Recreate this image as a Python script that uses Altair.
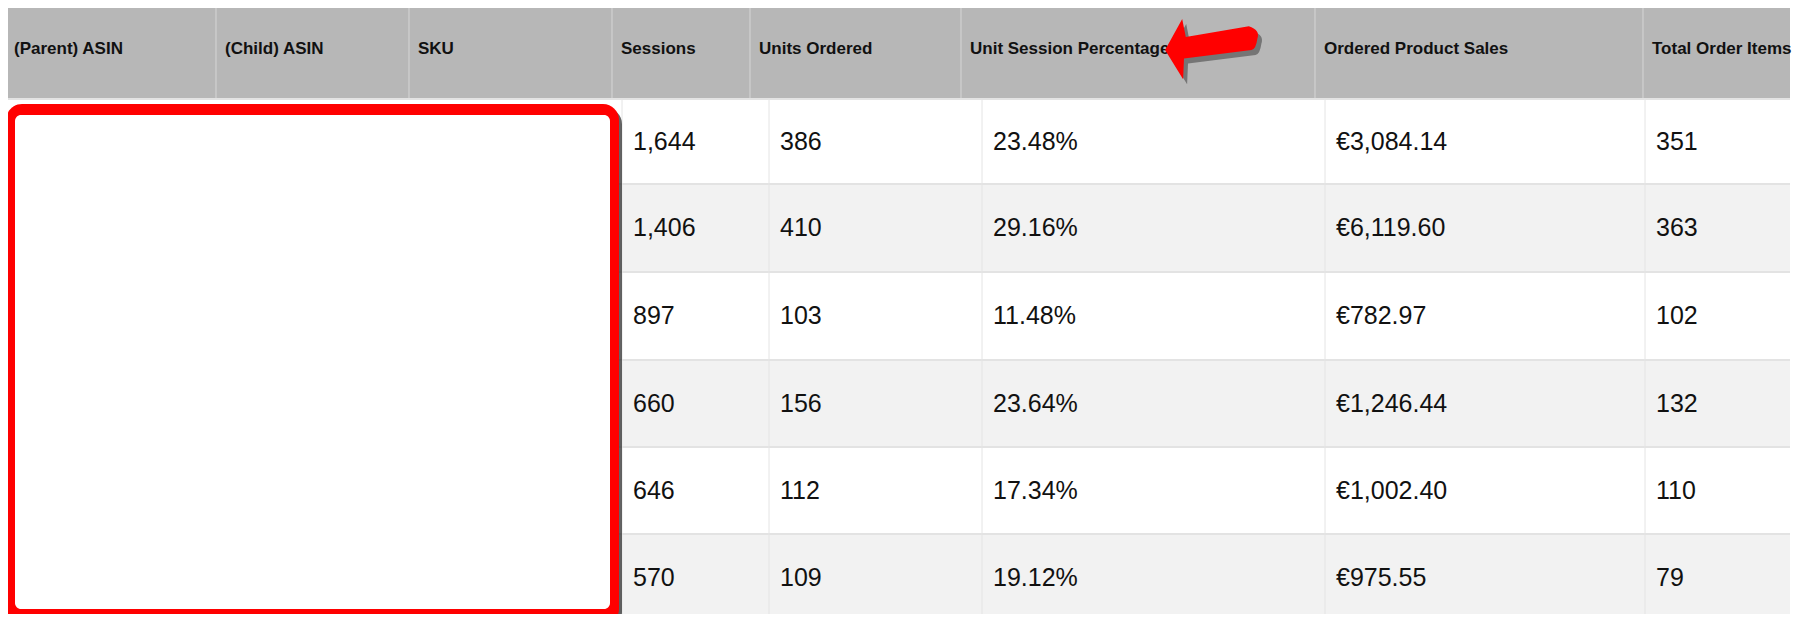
import altair as alt
import pandas as pd

# ---- data ----
columns = ["(Parent) ASIN", "(Child) ASIN", "SKU", "Sessions", "Units Ordered",
           "Unit Session Percentage", "Ordered Product Sales", "Total Order Items"]
sessions = [1644, 1406, 897, 660, 646, 570]
units_ordered = [386, 410, 103, 156, 112, 109]
unit_session_pct = [23.48, 29.16, 11.48, 23.64, 17.34, 19.12]
ordered_product_sales = [3084.14, 6119.60, 782.97, 1246.44, 1002.40, 975.55]
total_order_items = [351, 363, 102, 132, 110, 79]

# ---- layout (pixel grid of the table) ----
HEADER_EDGES = [5, 216, 409, 612, 750, 961, 1315, 1643, 1790]
BODY_EDGES = [622, 769, 982, 1325, 1645, 1790]
ROW_EDGES = [99, 184, 272, 360, 447, 534, 622]
HEADER_TOP, HEADER_BOTTOM = 5, 98
LEFT, RIGHT = 5, 1790
FONT = "Liberation Sans"

W, H = 1786, 606


def X(f):
    return alt.X(f"{f}:Q", scale=alt.Scale(domain=[8, 8 + W], nice=False, zero=False), axis=None)


def Y(f):
    return alt.Y(f"{f}:Q", scale=alt.Scale(domain=[8, 8 + H], nice=False, zero=False, reverse=True), axis=None)


# row bands
bands = pd.DataFrame({
    "x0": [LEFT] * 6, "x1": [RIGHT] * 6,
    "y0": ROW_EDGES[:-1], "y1": ROW_EDGES[1:],
    "fill": ["#ffffff" if i % 2 == 0 else "#f2f2f2" for i in range(6)],
})
band_layer = alt.Chart(bands).mark_rect().encode(
    x=X("x0"), x2="x1", y=Y("y0"), y2="y1", color=alt.Color("fill:N", scale=None))

# header background
hdr_bg = pd.DataFrame({"x0": [LEFT], "x1": [RIGHT], "y0": [HEADER_TOP], "y1": [HEADER_BOTTOM]})
hdr_layer = alt.Chart(hdr_bg).mark_rect(color="#b7b7b7").encode(
    x=X("x0"), x2="x1", y=Y("y0"), y2="y1")

# header separators
hsep = pd.DataFrame({"x": HEADER_EDGES[1:-1], "y0": HEADER_TOP, "y1": HEADER_BOTTOM})
hsep_layer = alt.Chart(hsep).mark_rule(color="#d6d6d6", strokeWidth=1).encode(
    x=X("x"), y=Y("y0"), y2="y1")

# body vertical separators
bsep = pd.DataFrame({"x": BODY_EDGES[:-1], "y0": ROW_EDGES[0], "y1": ROW_EDGES[-1]})
bsep_layer = alt.Chart(bsep).mark_rule(color="#e4e4e4", strokeWidth=1).encode(
    x=X("x"), y=Y("y0"), y2="y1")

# row separators
rsep = pd.DataFrame({"y": ROW_EDGES[:-1], "x0": LEFT, "x1": RIGHT})
rsep_layer = alt.Chart(rsep).mark_rule(color="#e3e3e3", strokeWidth=2).encode(
    y=Y("y"), x=X("x0"), x2="x1")

# header texts
hdr_txt = pd.DataFrame({
    "label": columns,
    "x": [e + 9 for e in HEADER_EDGES[:-1]],
    "y": [49] * len(columns),
})
hdr_txt_layer = alt.Chart(hdr_txt).mark_text(
    align="left", baseline="middle", font=FONT, fontSize=17, fontWeight="bold", color="#111111"
).encode(x=X("x"), y=Y("y"), text="label:N")

# body texts
cells = []
for i in range(6):
    yc = (ROW_EDGES[i] + ROW_EDGES[i + 1]) / 2
    vals = [f"{sessions[i]:,}", f"{units_ordered[i]}", f"{unit_session_pct[i]:.2f}%",
            f"€{ordered_product_sales[i]:,.2f}", f"{total_order_items[i]}"]
    for j, v in enumerate(vals):
        cells.append({"x": BODY_EDGES[j] + 11, "y": yc, "label": v})
cells = pd.DataFrame(cells)
body_layer = alt.Chart(cells).mark_text(
    align="left", baseline="middle", font=FONT, fontSize=25, color="#111111"
).encode(x=X("x"), y=Y("y"), text="label:N")

# red highlight box (redaction)
box = pd.DataFrame({
    "x0": [9, 6, 15], "x1": [622, 619, 610],
    "y0": [108, 104, 115], "y1": [628, 625, 609],
    "fill": ["#222222", "#ff0000", "#ffffff"],
    "op": [0.7, 1.0, 1.0],
})
box_shadow = alt.Chart(box.iloc[[0]]).mark_rect(cornerRadius=16).encode(
    x=X("x0"), x2="x1", y=Y("y0"), y2="y1",
    color=alt.Color("fill:N", scale=None), opacity=alt.Opacity("op:Q", scale=None))
box_red = alt.Chart(box.iloc[[1]]).mark_rect(cornerRadius=16).encode(
    x=X("x0"), x2="x1", y=Y("y0"), y2="y1", color=alt.Color("fill:N", scale=None))
box_white = alt.Chart(box.iloc[[2]]).mark_rect(cornerRadius=6).encode(
    x=X("x0"), x2="x1", y=Y("y0"), y2="y1", color=alt.Color("fill:N", scale=None))

# red arrow pointing at "Unit Session Percentage"
ARROW = ("M -1.02 0 L -0.64 -0.69 L -0.56 -0.29 L 0.84 -0.53 "
         "Q 1.1 -0.45 1.03 -0.25 Q 1.0 -0.02 0.9 0 L -0.6 0.19 L -0.62 0.65 Z")
arrow_df = pd.DataFrame({"x": [1215, 1211], "y": [55, 50],
                         "fill": ["#111111", "#ff0000"], "op": [0.4, 1.0]})
arrow_layer = alt.Chart(arrow_df).mark_point(
    shape=ARROW, size=8100, filled=True, strokeWidth=0
).encode(x=X("x"), y=Y("y"), color=alt.Color("fill:N", scale=None),
         opacity=alt.Opacity("op:Q", scale=None))

chart = alt.layer(
    band_layer, hdr_layer, rsep_layer, hsep_layer, bsep_layer,
    hdr_txt_layer, body_layer, box_shadow, box_red, box_white, arrow_layer
).properties(
    width=W, height=H, padding=0, autosize=alt.AutoSizeParams(type="none"),
    background="#ffffff"
).configure_view(strokeWidth=0)

chart.save("out.html", embed_options={"renderer": "svg", "actions": False})
